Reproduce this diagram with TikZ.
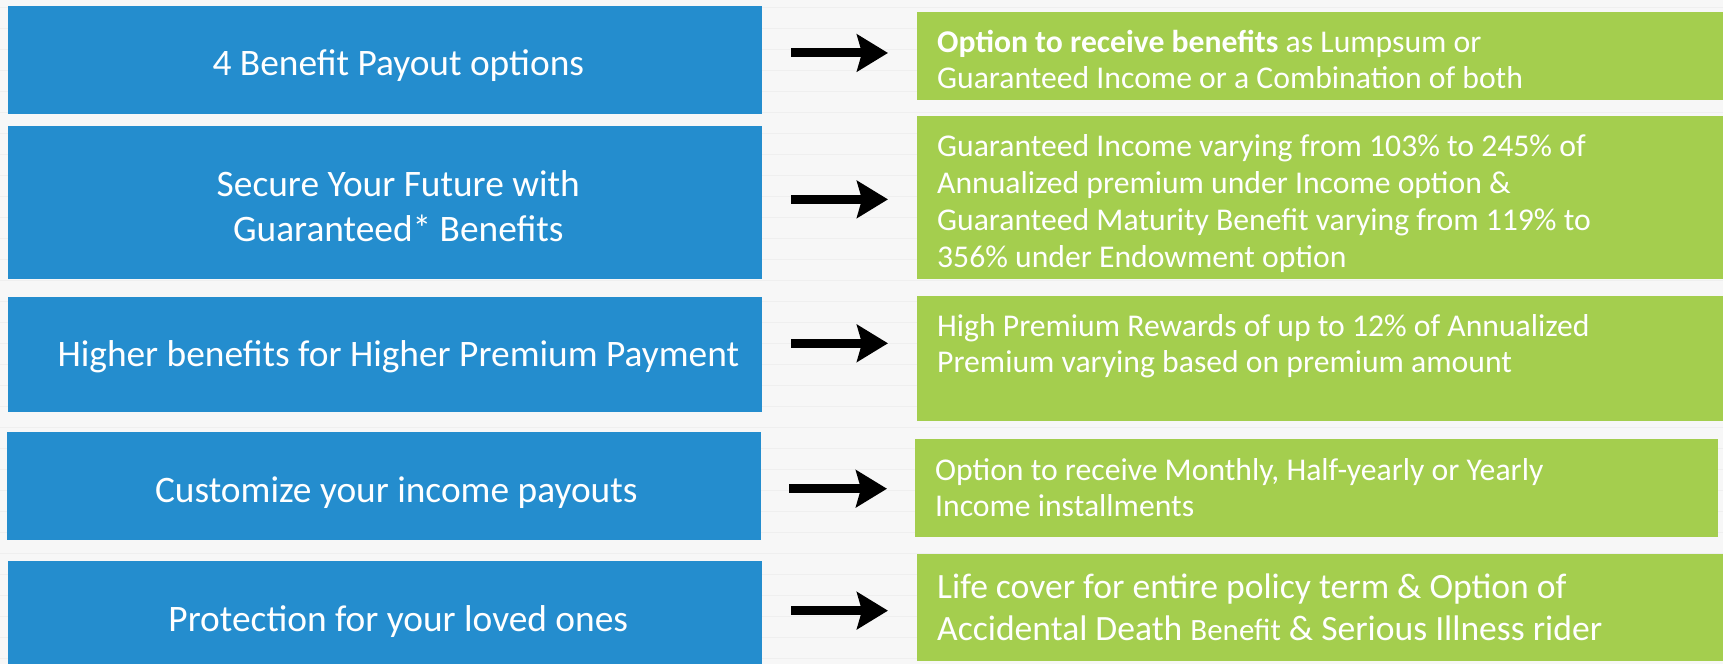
\documentclass[tikz,border=0pt]{standalone}
\usepackage{fontspec}
\setmainfont{Carlito}
\usetikzlibrary{arrows.meta}
\definecolor{boxblue}{RGB}{36,141,206}
\definecolor{boxgreen}{RGB}{164,206,78}
\definecolor{wall}{RGB}{247,247,247}
\definecolor{wallgrain}{RGB}{239,239,239}
\begin{document}
\begin{tikzpicture}[x=1pt,y=-1pt,
  bluebox/.style={fill=boxblue, draw=none, inner sep=0pt, outer sep=0pt, anchor=north west},
  greenbox/.style={fill=boxgreen, draw=none, inner sep=0pt, outer sep=0pt, anchor=north west},
  btext/.style={text=white, inner sep=0pt, anchor=base, font=\fontsize{37.4}{45}\selectfont},
  gtext/.style={text=white, inner sep=0pt, anchor=base west, font=\fontsize{31.7}{36}\selectfont},
  arr/.style={line width=9pt, -{Stealth[length=31pt,width=37pt,inset=5pt]}}]
% page background: whitewashed boards with faint grain
\fill[wall] (0,0) rectangle (1723,664);
\foreach \y in {8,29,...,664}
  \draw[wallgrain, line width=1pt] (0,\y) -- (1723,\y);
\useasboundingbox (0,0) rectangle (1723,664);

% feature boxes (left column)
\node[bluebox, minimum width=754pt, minimum height=108pt] (b1) at (8,6) {};
\node[bluebox, minimum width=754pt, minimum height=153pt] (b2) at (8,126) {};
\node[bluebox, minimum width=754pt, minimum height=115pt] (b3) at (8,297) {};
\node[bluebox, minimum width=754pt, minimum height=108pt] (b4) at (7,432) {};
\node[bluebox, minimum width=754pt, minimum height=103pt] (b5) at (8,561) {};

% benefit boxes (right column)
\node[greenbox, minimum width=806pt, minimum height=88pt] (g1) at (917,12) {};
\node[greenbox, minimum width=806pt, minimum height=163pt] (g2) at (917,116) {};
\node[greenbox, minimum width=806pt, minimum height=125pt] (g3) at (917,296) {};
\node[greenbox, minimum width=803pt, minimum height=98pt] (g4) at (915,439) {};
\node[greenbox, minimum width=806pt, minimum height=107pt] (g5) at (917,554) {};

% feature titles
\node[btext] (t1) at (398,76) {4 Benefit Payout options};
\node[btext] (t2) at (398,196.7) {\begin{tabular}[t]{@{}c@{}}Secure Your Future with\\Guaranteed* Benefits\end{tabular}};
\node[btext] (t3) at (398,367) {Higher benefits for Higher Premium Payment};
\node[btext] (t4) at (396,503) {Customize your income payouts};
\node[btext] (t5) at (398,632) {Protection for your loved ones};

% benefit descriptions
\node[gtext] (u1) at (937,53) {\begin{tabular}[t]{@{}l@{}}\textbf{Option to receive benefits} as Lumpsum or\\Guaranteed Income or a Combination of both\end{tabular}};
\node[gtext, font=\fontsize{31.7}{37}\selectfont] (u2) at (937,157) {\begin{tabular}[t]{@{}l@{}}Guaranteed Income varying from 103\% to 245\% of\\Annualized premium under Income option \&\\Guaranteed Maturity Benefit varying from 119\% to\\356\% under Endowment option\end{tabular}};
\node[gtext] (u3) at (937,337) {\begin{tabular}[t]{@{}l@{}}High Premium Rewards of up to 12\% of Annualized\\Premium varying based on premium amount\end{tabular}};
\node[gtext] (u4) at (935,481) {\begin{tabular}[t]{@{}l@{}}Option to receive Monthly, Half-yearly or Yearly\\Income installments\end{tabular}};
\node[gtext, font=\fontsize{35.6}{42}\selectfont] (u5) at (937,599) {\begin{tabular}[t]{@{}l@{}}Life cover for entire policy term \& Option of\\Accidental Death {\fontsize{31}{42}\selectfont Benefit} \& Serious Illness rider\end{tabular}};

% arrows between the columns
\coordinate (s1) at (791,53);    \coordinate (e1) at (888,53);
\coordinate (s2) at (791,199.5); \coordinate (e2) at (888,199.5);
\coordinate (s3) at (791,343.5); \coordinate (e3) at (888,343.5);
\coordinate (s4) at (789,489);   \coordinate (e4) at (887,489);
\coordinate (s5) at (791,611);   \coordinate (e5) at (888,611);
\draw[arr] (s1) -- (e1);
\draw[arr] (s2) -- (e2);
\draw[arr] (s3) -- (e3);
\draw[arr] (s4) -- (e4);
\draw[arr] (s5) -- (e5);
\end{tikzpicture}
\end{document}
